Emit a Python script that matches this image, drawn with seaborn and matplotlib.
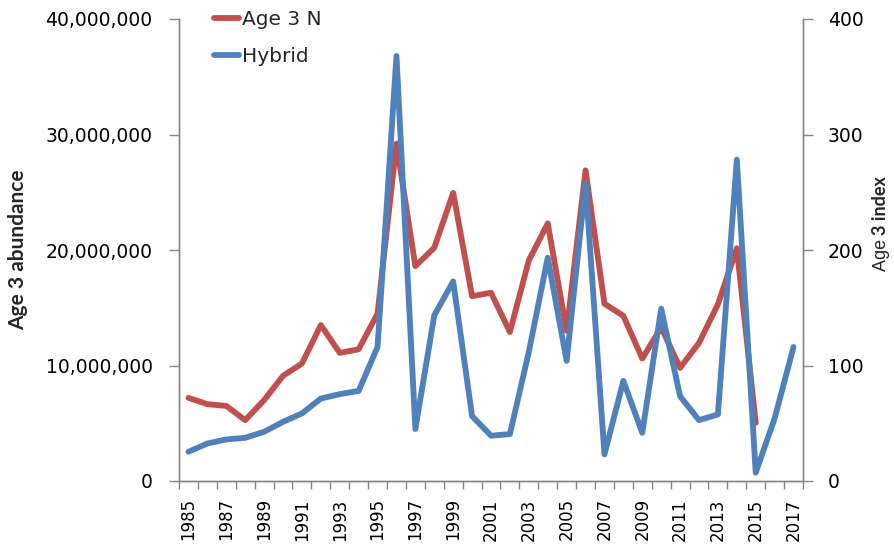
import numpy as np
import pandas as pd
import matplotlib
matplotlib.use("Agg")
import matplotlib.pyplot as plt
import matplotlib.ticker as mticker
from matplotlib.lines import Line2D
import seaborn as sns

# ---- data ----
years_n = list(range(1985, 2016))
age3_n = [7.2e6, 6.65e6, 6.5e6, 5.27e6, 7.0e6, 9.1e6, 10.17e6, 13.5e6, 11.1e6, 11.4e6,
          14.5e6, 29.2e6, 18.6e6, 20.2e6, 24.95e6, 16.0e6, 16.3e6, 12.9e6, 19.1e6, 22.3e6,
          13.0e6, 26.9e6, 15.35e6, 14.3e6, 10.6e6, 13.3e6, 9.8e6, 11.95e6, 15.3e6, 20.15e6,
          5.04e6]
years_h = list(range(1985, 2018))
hybrid = [25.3, 32.5, 36, 37.4, 42.6, 51.2, 58.5, 71.4, 75.2, 78,
          116, 368, 45, 143.4, 172.8, 56.2, 39.2, 40.6, 111.7, 193.3,
          104, 257.7, 23, 86.7, 41.7, 149.2, 73.4, 52.7, 57.6, 278.2,
          7.2, 54.2, 116]
xtick_labels = [str(y) for y in range(1985, 2018, 2)]

df_n = pd.DataFrame({"year": years_n, "value": age3_n})
df_h = pd.DataFrame({"year": years_h, "value": hybrid})

RED = "#C0504D"
BLUE = "#4F81BD"
GREY = "#868686"
LW = 4.2

sns.set_theme(style="white")
plt.rcParams["font.family"] = ["DejaVu Sans"]

W, H = 894, 550
fig = plt.figure(figsize=(W/100, H/100), dpi=100)
L, R, T, B = 179, 803, 19, 481
ax = fig.add_axes([L/W, 1-B/H, (R-L)/W, (B-T)/H])
ax2 = ax.twinx()

sns.lineplot(data=df_n, x="year", y="value", ax=ax, color=RED, linewidth=LW,
             solid_capstyle="round", solid_joinstyle="round", legend=False)
sns.lineplot(data=df_h, x="year", y="value", ax=ax2, color=BLUE, linewidth=LW,
             solid_capstyle="round", solid_joinstyle="round", legend=False)

ax.set_xlim(1984.5, 2017.5)
ax.set_ylim(0, 40e6)
ax2.set_ylim(0, 400)

ax.yaxis.set_major_locator(mticker.MultipleLocator(10e6))
ax.yaxis.set_major_formatter(mticker.FuncFormatter(lambda v, p: f"{int(v):,}"))
ax2.yaxis.set_major_locator(mticker.MultipleLocator(100))

ax.set_xticks(list(range(1985, 2018, 2)))
ax.set_xticklabels(xtick_labels, rotation=90, fontsize=12, color="black")
ax.set_xticks(np.arange(1984.5, 2018, 1), minor=True)
ax.tick_params(axis="x", which="major", length=0, pad=12.5)
ax.tick_params(axis="x", which="minor", length=6, width=1, color=GREY, direction="out", bottom=True)
ax.tick_params(axis="y", length=7, width=1, color=GREY, direction="out", labelsize=13.5,
               left=True, pad=12, labelcolor="black")
ax2.tick_params(axis="y", length=7, width=1, color=GREY, direction="out", labelsize=13.5,
                right=True, pad=11, labelcolor="black")

for a in (ax, ax2):
    a.spines["top"].set_visible(False)
    for s in ("left", "right", "bottom"):
        a.spines[s].set_color(GREY)
        a.spines[s].set_linewidth(1)
    a.set_xlabel("")
    a.set_ylabel("")
    a.grid(False)

# left axis title
fig.text(18/W, 1-250/H, "Age 3 abundance", rotation=90, fontsize=15,
         fontweight="bold", ha="center", va="center", family=["Lato", "DejaVu Sans"])

# right axis title: "Age " normal + "3 index" bold, placed end to end
fig.canvas.draw()
rend = fig.canvas.get_renderer()
t1 = fig.text(881/W, 1-271/H, "Age ", rotation=90, fontsize=13, ha="center", va="bottom",
              family=["Liberation Sans", "DejaVu Sans"])
bb = t1.get_window_extent(renderer=rend)
t2 = fig.text(881/W, (bb.y1 - 1)/H, "3 index", rotation=90, fontsize=13, fontweight="bold",
              ha="center", va="bottom", family=["Lato", "DejaVu Sans"])

handles = [Line2D([0], [0], color=RED, lw=LW, solid_capstyle="round"),
           Line2D([0], [0], color=BLUE, lw=LW, solid_capstyle="round")]
fig.legend(handles, ["Age 3 N", "Hybrid"], loc="upper left",
           bbox_to_anchor=(214/W, 1-10/H), bbox_transform=fig.transFigure,
           frameon=False, fontsize=14.5, handlelength=1.25, handletextpad=0.15,
           labelspacing=0.9, borderaxespad=0, borderpad=0)

fig.savefig("out.png", dpi=100)
